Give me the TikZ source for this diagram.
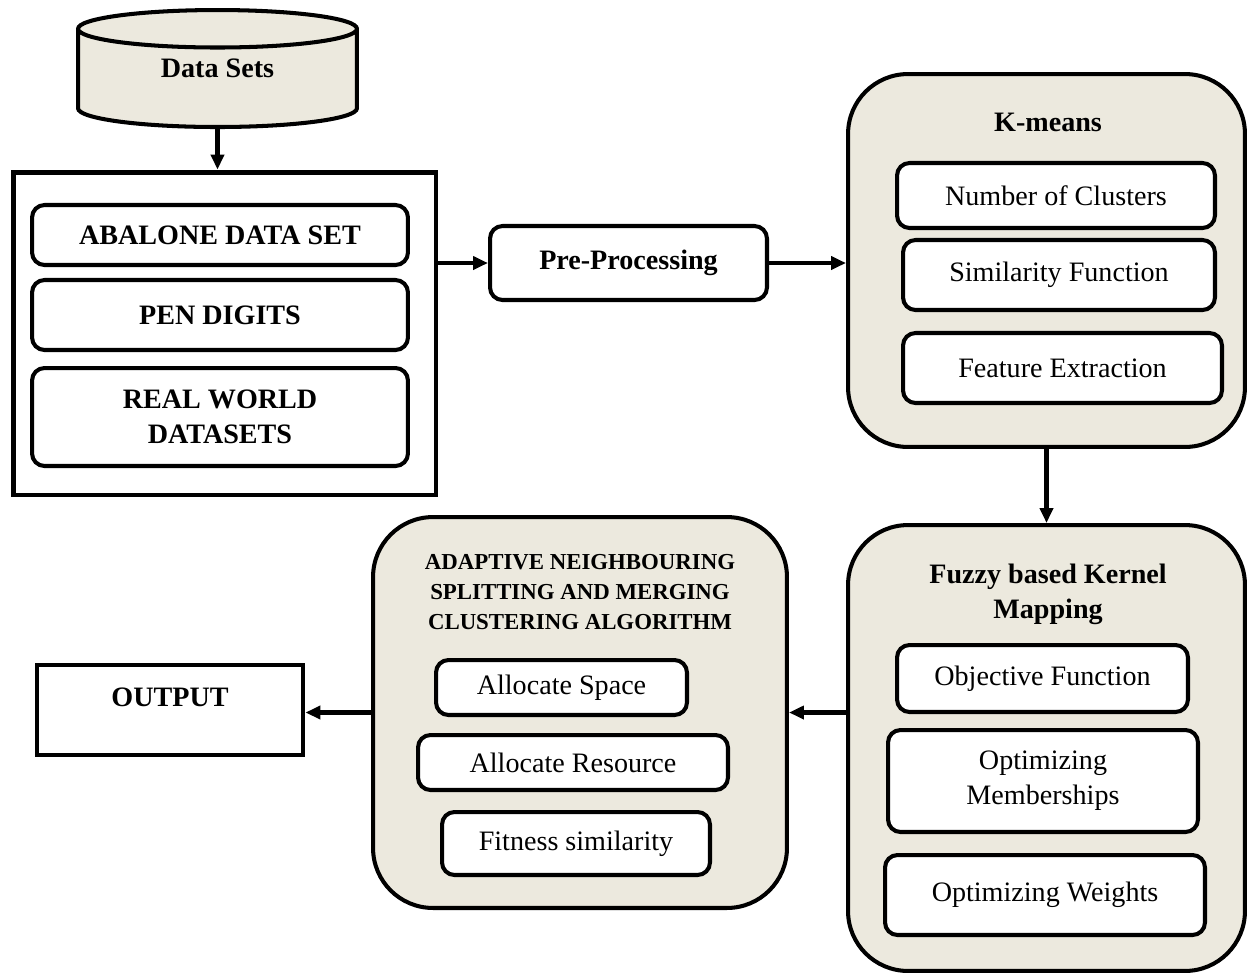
\documentclass[tikz,border=0pt]{standalone}
\usepackage{fontspec}
\setmainfont{Liberation Serif}
\usetikzlibrary{arrows.meta,shapes.geometric}
\definecolor{paper}{RGB}{236,233,222}

\begin{document}
\begin{tikzpicture}[
    x=0.02cm, y=-0.02cm,            % one unit per pixel, y running down
    every node/.style={font=\fontsize{16}{20}\selectfont, align=center},
    frame/.style={draw, line width=2.3pt},
    item/.style={frame, rounded corners=0.25cm, fill=white},   % white inner boxes
    group/.style={frame, rounded corners=1.2cm, fill=paper},   % beige outer boxes
    headline/.style={font=\fontsize{16}{20}\selectfont\bfseries},
    flow/.style={line width=2.3pt, -{Triangle[length=0.3cm,width=0.26cm]}}
]
\useasboundingbox (0,0) rectangle (1247,975);

% data sources
\node[frame, cylinder, shape border rotate=90, aspect=0.3, fill=paper, anchor=north,
      minimum width=5.58cm, minimum height=2.34cm, headline] (dbs) at (217.5,8) {\phantom{Data Sets}};
\node[headline] (dbstitle) at (217.5,68) {Data Sets};
\node[frame, line width=2.8pt, minimum width=8.46cm, minimum height=6.46cm] (datasets) at (224.5,333.5) {};
\node[item, headline, minimum width=7.52cm, minimum height=1.2cm] (abalone) at (220,235) {ABALONE DATA SET};
\node[item, headline, minimum width=7.52cm, minimum height=1.4cm] (pen) at (220,315) {PEN DIGITS};
\node[item, headline, minimum width=7.52cm, minimum height=1.96cm] (real) at (220,417) {REAL WORLD\\DATASETS};

\node[item, headline, minimum width=5.54cm, minimum height=1.48cm] (preproc) at (628.5,263) {Pre-Processing};

% k-means
\node[group, minimum width=7.94cm, minimum height=7.46cm] (kmeans) at (1046.5,260.5) {};
\node[headline] (kmeanstitle) at (1048,122) {K-means};
\node[item, minimum width=6.36cm, minimum height=1.3cm] (nclust) at (1056,195.5) {Number of Clusters};
\node[item, minimum width=6.24cm, minimum height=1.4cm] (simfun) at (1059,275) {Similarity Function};
\node[item, minimum width=6.38cm, minimum height=1.4cm] (featext) at (1062.5,368) {Feature Extraction};

% fuzzy kernel mapping
\node[group, minimum width=7.94cm, minimum height=8.92cm] (fuzzy) at (1046.5,748) {};
\node[headline] (fuzzytitle) at (1048,594) {Fuzzy based Kernel\\Mapping};
\node[item, minimum width=5.82cm, minimum height=1.34cm] (objfun) at (1042.5,678.5) {Objective Function};
\node[item, minimum width=6.2cm, minimum height=2.04cm] (optmem) at (1043,781) {Optimizing\\Memberships};
\node[item, minimum width=6.4cm, minimum height=1.6cm] (optwt) at (1045,895) {Optimizing Weights};

% splitting and merging
\node[group, minimum width=8.28cm, minimum height=7.82cm] (ansm) at (580,712.5) {};
\node[headline, font=\fontsize{13}{17}\selectfont\bfseries] (ansmtitle) at (580,592)
    {ADAPTIVE NEIGHBOURING\\SPLITTING AND MERGING\\CLUSTERING ALGORITHM};
\node[item, minimum width=5.02cm, minimum height=1.1cm] (allocspace) at (561.5,687.5) {Allocate Space};
\node[item, minimum width=6.2cm, minimum height=1.1cm] (allocres) at (573,762.5) {Allocate Resource};
\node[item, minimum width=5.36cm, minimum height=1.26cm] (fitsim) at (576,843.5) {Fitness similarity};

\node[frame, line width=2.8pt, minimum width=5.32cm, minimum height=1.8cm] (output) at (170,710) {};
\node[headline] (outputtitle) at (170,697) {OUTPUT};

\draw[flow] (dbs.south) -- (dbs.south |- datasets.north);
\draw[flow] (datasets.east |- preproc.west) -- (preproc.west);
\draw[flow] (preproc.east) -- (preproc.east -| kmeans.west);
\draw[flow] (kmeans.south) -- (fuzzy.north);
\draw[flow] (ansm.east -| fuzzy.west) -- (ansm.east);
\draw[flow] (ansm.west) -- (ansm.west -| output.east);
\end{tikzpicture}
\end{document}
